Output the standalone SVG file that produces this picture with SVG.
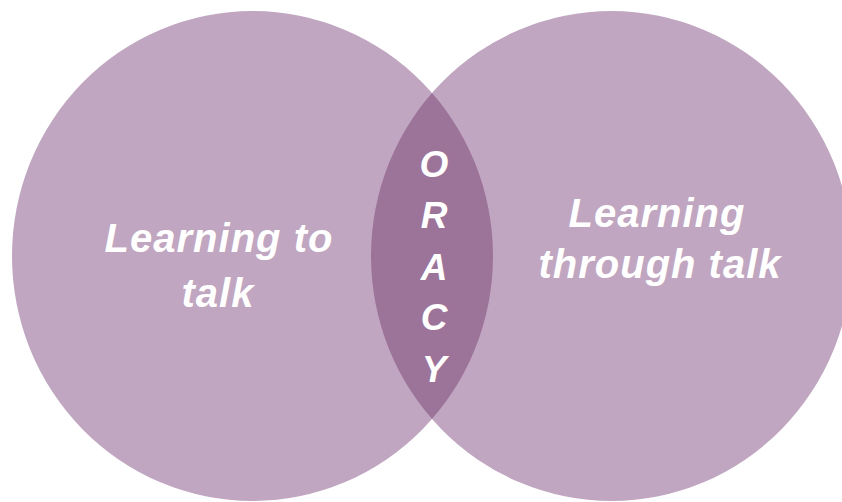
<svg xmlns="http://www.w3.org/2000/svg" width="842" height="502" viewBox="0 0 842 502">
  <style>
    .circle { fill: #c0a6c0; }
    .lens { fill: #9c7399; }
    .lbl { fill: #ffffff; font-family: "Liberation Sans", Arial, sans-serif; font-weight: bold; font-style: italic; text-anchor: middle; }
    .big { font-size: 40px; letter-spacing: 1px; }
    .letter { font-size: 37px; }
  </style>
  <defs>
    <clipPath id="clipLeft">
      <ellipse cx="252.5" cy="256" rx="240.5" ry="245"/>
    </clipPath>
  </defs>
  <rect x="0" y="0" width="842" height="502" fill="#ffffff"/>
  <g id="node-left">
    <ellipse class="circle" cx="252.5" cy="256" rx="240.5" ry="245"/>
    <text class="lbl big" x="219" y="252">Learning to</text>
    <text class="lbl big" x="218" y="307">talk</text>
  </g>
  <g id="node-right">
    <ellipse class="circle" cx="611.5" cy="256" rx="240.5" ry="245"/>
    <text class="lbl big" x="657" y="227">Learning</text>
    <text class="lbl big" x="660" y="278">through talk</text>
  </g>
  <g id="node-oracy">
    <ellipse class="lens" cx="611.5" cy="256" rx="240.5" ry="245" clip-path="url(#clipLeft)"/>
    <text class="lbl letter" x="434" y="177">O</text>
    <text class="lbl letter" x="434" y="228">R</text>
    <text class="lbl letter" x="434" y="280">A</text>
    <text class="lbl letter" x="434" y="330">C</text>
    <text class="lbl letter" x="434" y="382">Y</text>
  </g>
  <g id="connectors"></g>
</svg>
